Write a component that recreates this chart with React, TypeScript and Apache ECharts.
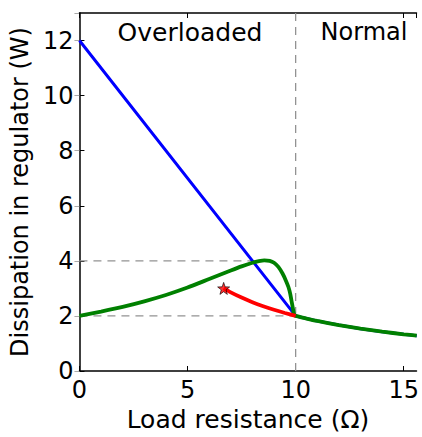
import React, { useEffect, useRef } from "react";
import * as echarts from "echarts";

// Blue: regulator dissipation without protection
const blueX = [0, 10, 10.5, 11, 12, 13, 14, 15, 15.6];
const blueY = [12, 2, 1.905, 1.818, 1.667, 1.538, 1.429, 1.333, 1.282];

// Green: with foldback / limiting
const greenX = [0, 1, 2, 3, 4, 5, 6, 7, 7.5, 8, 8.3, 8.55, 8.8, 9.0, 9.2, 9.4, 9.55, 9.67, 9.75, 9.82, 9.88, 9.93, 10, 10.5, 11, 12, 13, 14, 15, 15.6];
const greenY = [2.0, 2.16, 2.33, 2.53, 2.76, 3.03, 3.34, 3.65, 3.8, 3.93, 3.99, 4.02, 4.0, 3.93, 3.78, 3.53, 3.28, 3.04, 2.8, 2.5, 2.25, 2.05, 2.0, 1.905, 1.818, 1.667, 1.538, 1.429, 1.333, 1.282];

// Red: segment ending in star
const redX = [6.67, 7, 7.5, 8, 8.5, 9, 9.5, 10];
const redY = [3.0, 2.857, 2.667, 2.5, 2.353, 2.222, 2.105, 2.0];

const starPoint = [6.67, 3.0];

// Reference dashed lines
const dashH4 = [[0, 4], [8.55, 4]];
const dashH2 = [[0, 2], [10, 2]];
const dashV10 = [[10, 0], [10, 13]];

const xTicks = [0, 5, 10, 15];
const yTicks = [0, 2, 4, 6, 8, 10, 12];

const FONT = "DejaVu Sans";
const zip = (xs: number[], ys: number[]) => xs.map((x, i) => [x, ys[i]]);

const STAR =
  "path://M0,-10L2.35,-3.24L9.51,-3.09L3.8,1.24L5.88,8.09L0,4L-5.88,8.09L-3.8,1.24L-9.51,-3.09L-2.35,-3.24Z";

export default function App() {
  const ref = useRef<HTMLDivElement>(null);
  useEffect(() => {
    document.body.style.margin = "0";
    const chart = echarts.init(ref.current!, null, { renderer: "svg" });
    const dashStyle = { color: "#929292", width: 1.3, type: [8, 6] as any };
    const xMax = 15.59;
    const yMax = 13;
    chart.setOption({
      animation: false,
      textStyle: { fontFamily: FONT },
      grid: { left: 79, right: 1, top: 13, bottom: 62, containLabel: false },
      xAxis: [
        {
          type: "value",
          min: 0,
          max: xMax,
          interval: 5,
          position: "bottom",
          axisLine: { show: true, onZero: false, lineStyle: { color: "#000", width: 1.5 } },
          axisTick: { show: true, inside: true, length: 5, lineStyle: { color: "#000" } },
          axisLabel: {
            fontSize: 24,
            color: "#000",
            fontFamily: FONT,
            margin: 7,
            showMaxLabel: false,
            formatter: (v: number) => (xTicks.includes(v) ? String(v) : ""),
          },
          splitLine: { show: false },
          name: "Load resistance (Ω)",
          nameLocation: "middle",
          nameGap: 36,
          nameTextStyle: { fontSize: 25, color: "#000", fontFamily: FONT },
        },
        {
          type: "value",
          min: 0,
          max: xMax,
          interval: 5,
          position: "top",
          axisLine: { show: true, onZero: false, lineStyle: { color: "#000", width: 1.5 } },
          axisTick: { show: true, inside: true, length: 5, lineStyle: { color: "#000" } },
          axisLabel: { show: false },
          splitLine: { show: false },
        },
      ],
      yAxis: [
        {
          type: "value",
          min: 0,
          max: yMax,
          interval: 2,
          position: "left",
          axisLine: { show: true, onZero: false, lineStyle: { color: "#000", width: 1.5 } },
          axisTick: { show: true, inside: true, length: 5, lineStyle: { color: "#000" } },
          axisLabel: {
            fontSize: 24,
            color: "#000",
            fontFamily: FONT,
            margin: 6,
            showMaxLabel: false,
            formatter: (v: number) => (yTicks.includes(v) ? String(v) : ""),
          },
          splitLine: { show: false },
          name: "Dissipation in regulator (W)",
          nameLocation: "middle",
          nameGap: 41,
          nameTextStyle: { fontSize: 24, color: "#000", fontFamily: FONT },
        },
        {
          type: "value",
          min: 0,
          max: yMax,
          interval: 2,
          position: "right",
          axisLine: { show: false },
          axisTick: { show: true, inside: true, length: 5, lineStyle: { color: "#aaa" } },
          axisLabel: { show: false },
          splitLine: { show: false },
        },
      ],
      graphic: [
        {
          type: "text",
          x: 190,
          y: 32,
          style: {
            text: "Overloaded",
            fontSize: 25,
            fontFamily: FONT,
            fill: "#000",
            align: "center",
            verticalAlign: "middle",
          },
        },
        {
          type: "text",
          x: 364,
          y: 32,
          style: {
            text: "Normal",
            fontSize: 24,
            fontFamily: FONT,
            fill: "#000",
            align: "center",
            verticalAlign: "middle",
          },
        },
      ],
      series: [
        { type: "line", data: dashH4, symbol: "none", lineStyle: dashStyle, silent: true, z: 1 },
        { type: "line", data: dashH2, symbol: "none", lineStyle: dashStyle, silent: true, z: 1 },
        { type: "line", data: dashV10, symbol: "none", lineStyle: dashStyle, silent: true, z: 1 },
        {
          name: "blue",
          type: "line",
          data: zip(blueX, blueY),
          symbol: "none",
          lineStyle: { color: "#0000ff", width: 3 },
          z: 2,
        },
        {
          name: "green",
          type: "line",
          data: zip(greenX, greenY),
          symbol: "none",
          smooth: 0.2,
          lineStyle: { color: "#008000", width: 3.8 },
          z: 3,
        },
        {
          name: "red",
          type: "line",
          data: zip(redX, redY),
          symbol: "none",
          smooth: 0.2,
          lineStyle: { color: "#ff0000", width: 3.8 },
          z: 4,
        },
        {
          name: "star",
          type: "scatter",
          data: [starPoint],
          symbol: STAR,
          symbolSize: 12,
          itemStyle: { color: "#ff0000", borderColor: "#000", borderWidth: 0.8 },
          z: 5,
        },
      ],
    });
    return () => chart.dispose();
  }, []);
  return (
    <div
      ref={ref}
      style={{ width: 422, height: 437, position: "fixed", left: 0, top: 0, background: "#fff" }}
    />
  );
}
